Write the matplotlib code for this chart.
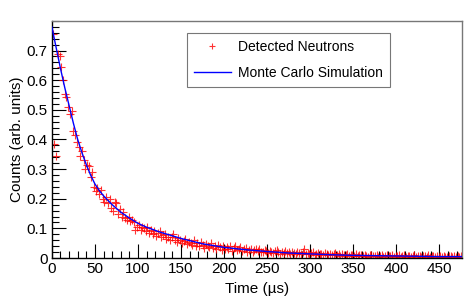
import matplotlib
matplotlib.use("Agg")
import matplotlib.pyplot as plt
import numpy as np
from matplotlib.ticker import MultipleLocator

plt.rcParams['font.family'] = ['Liberation Sans', 'DejaVu Sans']

# detected neutrons, one point per 2 us bin (bin centres 1, 3, 5 ... 477 us)
time_us = np.arange(1, 478, 2)
counts = [
    .755, .385, .345, .690, .680, .645, .600, .555, .545, .510,
    .485, .495, .430, .415, .390, .375, .345, .360, .330, .300,
    .315, .310, .275, .290, .240, .225, .235, .215, .230, .200,
    .190, .205, .185, .200, .170, .160, .190, .185, .150, .165,
    .140, .155, .135, .130, .140, .125, .130, .120, .095, .105,
    .110, .095, .105, .100, .090, .105, .085, .095, .080, .090,
    .075, .085, .090, .070, .078, .082, .065, .070, .060, .072,
    .080, .062, .055, .068, .060, .052, .058, .065, .048, .055,
    .050, .045, .060, .042, .050, .040, .055, .045, .035, .048,
    .042, .038, .050, .034, .040, .030, .045, .036, .028, .040,
    .032, .038, .030, .042, .025, .035, .040, .028, .032, .036,
    .024, .030, .034, .022, .028, .031, .020, .026, .030, .024,
    .029, .022, .019, .027, .024, .018, .025, .021, .017, .023,
    .026, .019, .015, .022, .018, .024, .016, .020, .014, .021,
    .017, .013, .022, .016, .015, .019, .031, .014, .018, .012,
    .016, .020, .011, .015, .018, .012, .014, .010, .017, .013,
    .011, .015, .009, .013, .016, .010, .012, .008, .014, .011,
    .009, .013, .007, .011, .010, .008, .012, .006, .010, .009,
    .007, .011, .008, .005, .009, .010, .006, .008, .011, .005,
    .007, .009, .004, .008, .010, .006, .007, .009, .004, .008,
    .006, .010, .005, .007, .009, .004, .006, .008, .005, .007,
    .009, .004, .006, .008, .003, .006, .007, .005, .009, .004,
    .006, .008, .003, .007, .005, .006, .004, .008, .005, .003,
    .007, .006, .004, .008, .005, .006, .004, .007, .005,
]

# monte carlo simulation curve
mc_time = [0, 5, 10, 15, 20, 25, 30, 35, 40, 45, 50, 55, 60, 70, 80, 90, 100,
           110, 125, 150, 175, 200, 225, 250, 275, 300, 325, 350, 400, 450, 476]
mc_counts = [0.78, 0.71, 0.64, 0.575, 0.515, 0.455, 0.40, 0.355, 0.315, 0.28,
             0.25, 0.228, 0.21, 0.18, 0.155, 0.135, 0.117, 0.104, 0.088, 0.066,
             0.048, 0.036, 0.028, 0.022, 0.017, 0.014, 0.011, 0.009, 0.007,
             0.005, 0.005]

fig = plt.figure(figsize=(4.67, 2.99), dpi=100)
ax = fig.add_axes([0.111, 0.137, 0.878, 0.793])

ax.plot(time_us, counts, '+', color='red', ms=6, mew=0.8, alpha=0.8,
        label='Detected Neutrons', zorder=2)
ax.plot(mc_time, mc_counts, '-', color='blue', lw=1.0,
        label='Monte Carlo Simulation', zorder=3)

ax.set_xlim(0, 476)
ax.set_ylim(0, 0.8)
ax.xaxis.set_minor_locator(MultipleLocator(10))
ax.yaxis.set_minor_locator(MultipleLocator(0.02))
ax.set_xticks(np.arange(0, 451, 50))
ax.set_xticklabels([str(v) for v in range(0, 451, 50)])
ax.set_yticks(np.arange(0, 0.71, 0.1))
ax.set_yticklabels(['0'] + ['%.1f' % v for v in np.arange(0.1, 0.71, 0.1)])

ax.tick_params(which='both', direction='in', top=False, right=False,
               labelsize=11, width=0.8, color='black')
ax.tick_params(which='major', length=10, pad=3)
ax.tick_params(which='minor', length=5)

for side in ['left', 'bottom']:
    ax.spines[side].set_color('black')
    ax.spines[side].set_linewidth(1.0)
for side in ['top', 'right']:
    ax.spines[side].set_color('#777777')
    ax.spines[side].set_linewidth(1.0)

ax.set_xlabel('Time (µs)', fontsize=11, labelpad=4)
ax.set_ylabel('Counts (arb. units)', fontsize=11, labelpad=2)

leg = ax.legend(loc='upper left', bbox_to_anchor=(0.329, 0.949), fontsize=10,
                frameon=True, fancybox=False, borderpad=0.5, labelspacing=0.85,
                handlelength=2.7, handletextpad=0.5, markerscale=0.8,
                borderaxespad=0)
leg.get_frame().set_edgecolor('#555555')
leg.get_frame().set_linewidth(0.8)

fig.savefig('out.png', dpi=100)
